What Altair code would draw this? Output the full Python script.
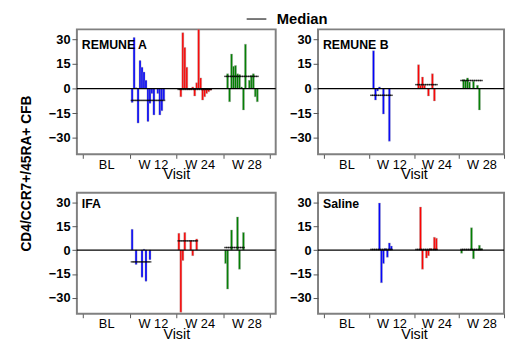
import altair as alt
import pandas as pd

FONT = "Liberation Sans"

visits = ["BL", "W 12", "W 24", "W 28"]
bar_visits = ["W 12", "W 24", "W 28"]
bar_colors = ["#0000ff", "#ff0000", "#008000"]

panel_names = ["REMUNE A", "REMUNE B", "IFA", "Saline"]
subject_counts = [17, 11, 10, 11]

# change from baseline per subject slot (None = no bar)
remune_a_w12 = [-8.5, 31, 0.5, -21, 17, 13, 10, 5, -20, -9, -3, -16, None, -3, -16, -13.5, -7]
remune_a_w24 = [None, -5, 34, 25, 13, -0.5, -0.5, 1, -4.5, 3.5, 36, 6.5, -7, -5, -3, -2, -1]
remune_a_w28 = [None, 9, -8, 21, 13.5, 14, 9, 8.5, 1, -13, 27, None, 5, 8, 9, -5, -8]

remune_b_w12 = [None, 23, -7, -1.5, 1, None, -15.5, None, None, -32, None]
remune_b_w24 = [None, 14.5, 2, 7, 2, None, -4.5, None, 9, -7.5, None]
remune_b_w28 = [None, 5.5, 5, 6.5, 4, None, 4.5, None, 2, -13, None]

ifa_w12 = [13, None, -9, None, None, -17, 0.5, -19.5, None, -6]
ifa_w24 = [10.5, -39, -6.5, 11, None, None, 6, -3.5, None, 7]
ifa_w28 = [-8.5, -24.5, None, 12.6, None, None, 20.8, -12, None, 11]

saline_w12 = [None, None, None, None, 29.5, -20.5, -8.5, 1, -4.5, 4.5, 2.5]
saline_w24 = [None, None, 27, -12, None, -5, -3.5, 1, None, 8, 7.5]
saline_w28 = [-2, None, None, None, None, 14, -5.5, None, None, 3, 1]

# medians (W 12, W 24, W 28)
remune_a_median = [-7.2, -0.5, 7.4]
remune_b_median = [-4.1, 2.4, 4.9]
ifa_median = [-7.4, 5.8, 1.6]
saline_median = [0.4, 0.4, 0.4]

y_ticks = [-30, -15, 0, 15, 30]

panel_values = {
    "REMUNE A": [remune_a_w12, remune_a_w24, remune_a_w28],
    "REMUNE B": [remune_b_w12, remune_b_w24, remune_b_w28],
    "IFA": [ifa_w12, ifa_w24, ifa_w28],
    "Saline": [saline_w12, saline_w24, saline_w28],
}
panel_medians = {
    "REMUNE A": remune_a_median,
    "REMUNE B": remune_b_median,
    "IFA": ifa_median,
    "Saline": saline_median,
}
# (empty slots on each side, outer padding) for the within-visit offset scale
offset_layout = {"REMUNE A": (0, 0.8), "REMUNE B": (4, 0.3), "IFA": (5, 0.2), "Saline": (4, 0.3)}


def make_panel(name, n, idx):
    rows = []
    for v, vals in zip(bar_visits, panel_values[name]):
        for i, val in enumerate(vals):
            if val is not None:
                rows.append({"visit": v, "subject": i, "value": val})
    bars_df = pd.DataFrame(rows)
    med_rows = []
    for v, m in zip(bar_visits, panel_medians[name]):
        for i in range(n):
            med_rows.append({"visit": v, "subject": i, "value": m, "stat": "Median"})
    med_df = pd.DataFrame(med_rows)
    zero_df = pd.DataFrame({"value": [0]})
    label_df = pd.DataFrame({"panel": [name]})

    top_row = idx < 2
    left_col = idx % 2 == 0
    k, pad = offset_layout[name]
    width = 202 if left_col else 189
    height = 127 if top_row else 123

    x = alt.X(
        "visit:N",
        scale=alt.Scale(domain=visits, paddingInner=0, paddingOuter=0,
                        range=[6, 196] if left_col else [6, 189]),
        axis=alt.Axis(
            title="Visit", labelAngle=0, tickBand="extent", domain=False,
            labelFont=FONT, labelFontSize=13, labelColor="black",
            labelPadding=0, tickSize=4, tickColor="#555555",
            titleFont=FONT, titleFontSize=14.5, titleFontWeight="normal",
            titleColor="black", titlePadding=-3,
        ),
    )
    xo = alt.XOffset(
        "subject:O",
        scale=alt.Scale(domain=list(range(-k, n + k)), paddingInner=0, paddingOuter=pad),
    )
    yaxis_kw = dict(
        values=y_ticks, domain=False, grid=False, tickSize=5, tickColor="#555555",
        labelFont=FONT, labelFontSize=13, labelFontWeight="bold", labelColor="black",
        labelPadding=2, labelOverlap=False,
    )
    if idx == 0:
        yaxis_kw.update(
            title="CD4/CCR7+/45RA+ CFB", titleFont=FONT, titleFontSize=14,
            titleFontWeight="bold", titleColor="black", titleX=-47, titleY=146,
            titleAngle=-90, titleAlign="center", titleBaseline="alphabetic",
        )
    else:
        yaxis_kw.update(title=None)
    y = alt.Y("value:Q", scale=alt.Scale(domain=[-40, 36], nice=False, zero=False),
              axis=alt.Axis(**yaxis_kw))

    bars = alt.Chart(bars_df).mark_bar(stroke="#a8a8a8", strokeWidth=0.4, clip=True).encode(
        x=x, xOffset=xo, y=y,
        color=alt.Color("visit:N", scale=alt.Scale(domain=bar_visits, range=bar_colors), legend=None),
    )
    zero = alt.Chart(zero_df).mark_rule(color="black", strokeWidth=1.3).encode(y=y)

    if idx == 0:
        legend = alt.Legend(
            title=None, orient="none", legendX=175, legendY=-18,
            symbolType="M-2,0H2", symbolSize=100, symbolStrokeColor="black",
            symbolStrokeWidth=1.5, labelFont=FONT, labelFontSize=15,
            labelFontWeight="bold", labelColor="black", labelOffset=13,
        )
    else:
        legend = None
    med = alt.Chart(med_df).mark_tick(size=3, thickness=1.5).encode(
        x=x, xOffset=xo, y=y,
        color=alt.Color("stat:N", scale=alt.Scale(domain=["Median"], range=["black"]), legend=legend),
    )

    label = alt.Chart(label_df).mark_text(
        align="left", baseline="alphabetic", font=FONT, fontSize=12.5,
        fontWeight="bold", color="black", dx=5, dy=20 if top_row else 16,
    ).encode(x=alt.value(0), y=alt.value(0), text="panel:N")

    return alt.layer(bars, zero, med, label).resolve_scale(color="independent").properties(
        width=width, height=height
    )


panels = [make_panel(nm, n, i) for i, (nm, n) in enumerate(zip(panel_names, subject_counts))]

chart = alt.concat(
    *panels, columns=2, spacing={"row": 39, "column": 43}, bounds="flush",
    padding={"left": 11, "top": 0, "right": 0, "bottom": 0},
).resolve_scale(color="independent").configure(font=FONT).configure_view(
    stroke="#808080", strokeWidth=2
)

chart.save("out.html", embed_options={"renderer": "svg", "actions": False})
